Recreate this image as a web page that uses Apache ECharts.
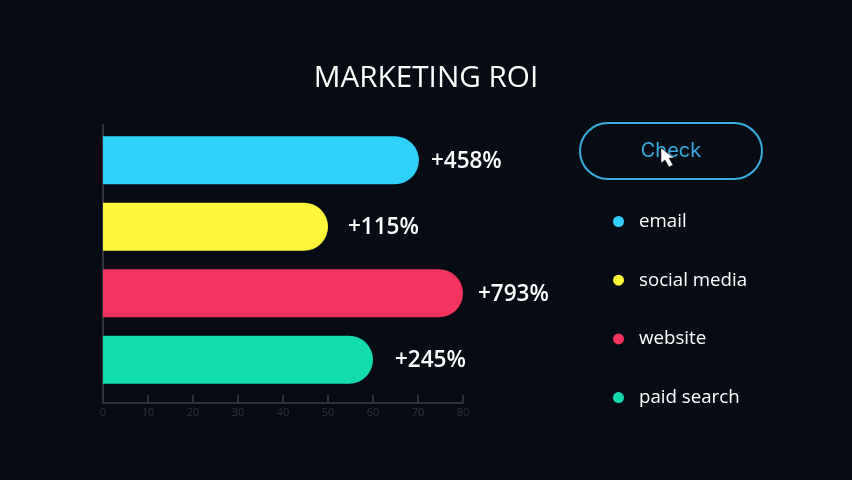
<!DOCTYPE html>
<html>
<head>
<meta charset="utf-8">
<style>html,body{margin:0;padding:0;background:#060b14}#c{width:852px;height:480px}</style>
<script src="https://cdn.jsdelivr.net/npm/echarts@6/dist/echarts.min.js"></script>
</head>
<body>
<div id="c"></div>
<script>
const categories = ['email', 'social media', 'website', 'paid search'];
const barValues = [70.2, 50, 80, 60];
const roiLabels = ['+458%', '+115%', '+793%', '+245%'];
const colors = ['#2fd1f8', '#fff739', '#f5335f', '#12dcac'];
const labelGaps = [12, 20, 15, 22];
const axisTicks = [0, 80, 10];

const chart = echarts.init(document.getElementById('c'), null, {renderer: 'canvas'});
const axisColor = '#2e343a';
const series = categories.map((name, i) => ({
  name,
  type: 'bar',
  stack: 'all',
  xAxisIndex: 1,
  yAxisIndex: 1,
  barWidth: 48,
  itemStyle: {color: colors[i], borderRadius: [0, 25, 25, 0]},
  label: {
    show: true,
    position: 'right',
    distance: labelGaps[i],
    offset: [0, 1],
    formatter: () => roiLabels[i],
    color: '#ffffff',
    fontFamily: 'Open Sans',
    fontSize: 22.5,
    fontWeight: 600
  },
  data: categories.map((_, j) => (j === i ? barValues[i] : null))
}));

chart.setOption({
  animation: false,
  backgroundColor: '#060b14',
  title: {
    text: 'MARKETING ROI',
    left: 'center',
    top: 59,
    textStyle: {color: '#ffffff', fontFamily: 'Open Sans', fontWeight: 400, fontSize: 29.7}
  },
  legend: {
    orient: 'vertical',
    left: 608,
    top: 204,
    icon: 'circle',
    itemWidth: 11,
    itemHeight: 11,
    itemGap: 33.7,
    selectedMode: false,
    data: categories,
    textStyle: {color: '#ffffff', fontFamily: 'Open Sans', fontSize: 18.7, padding: [0, 0, 0, 10], height: 25, lineHeight: 25}
  },
  grid: [
    {left: 103, top: 125, width: 360, height: 278},
    {left: 103, top: 127, width: 360, height: 266}
  ],
  xAxis: [
    {
      type: 'value', gridIndex: 0,
      min: axisTicks[0], max: axisTicks[1], interval: axisTicks[2],
      axisLine: {show: true, lineStyle: {color: axisColor, width: 2}},
      axisTick: {show: true, inside: true, length: 8, lineStyle: {color: axisColor, width: 2}},
      axisLabel: {color: '#2f353c', fontFamily: 'Open Sans', fontSize: 11, margin: 4},
      splitLine: {show: false}
    },
    {
      type: 'value', gridIndex: 1,
      min: axisTicks[0], max: axisTicks[1], interval: axisTicks[2],
      show: false
    }
  ],
  yAxis: [
    {
      type: 'category', gridIndex: 0, data: categories, inverse: true,
      axisLine: {show: true, lineStyle: {color: axisColor, width: 2}},
      axisTick: {show: false},
      axisLabel: {show: false}
    },
    {
      type: 'category', gridIndex: 1, data: categories, inverse: true,
      show: false
    }
  ],
  series,
  graphic: [
    {
      type: 'rect',
      shape: {x: 580, y: 123, width: 182, height: 56, r: 28},
      style: {fill: 'transparent', stroke: '#38aee0', lineWidth: 2}
    },
    {
      type: 'text',
      x: 671, y: 151,
      style: {text: 'Check', fill: '#36abdf', fontFamily: 'Inter', fontSize: 20, align: 'center', verticalAlign: 'middle'}
    },
    {
      type: 'polygon',
      shape: {points: [[661, 148], [661, 163], [665, 160], [669, 167], [673, 165], [669, 158], [674, 158]]},
      style: {fill: '#ffffff', stroke: '#111111', lineWidth: 0.5}
    }
  ]
});
</script>
</body>
</html>
